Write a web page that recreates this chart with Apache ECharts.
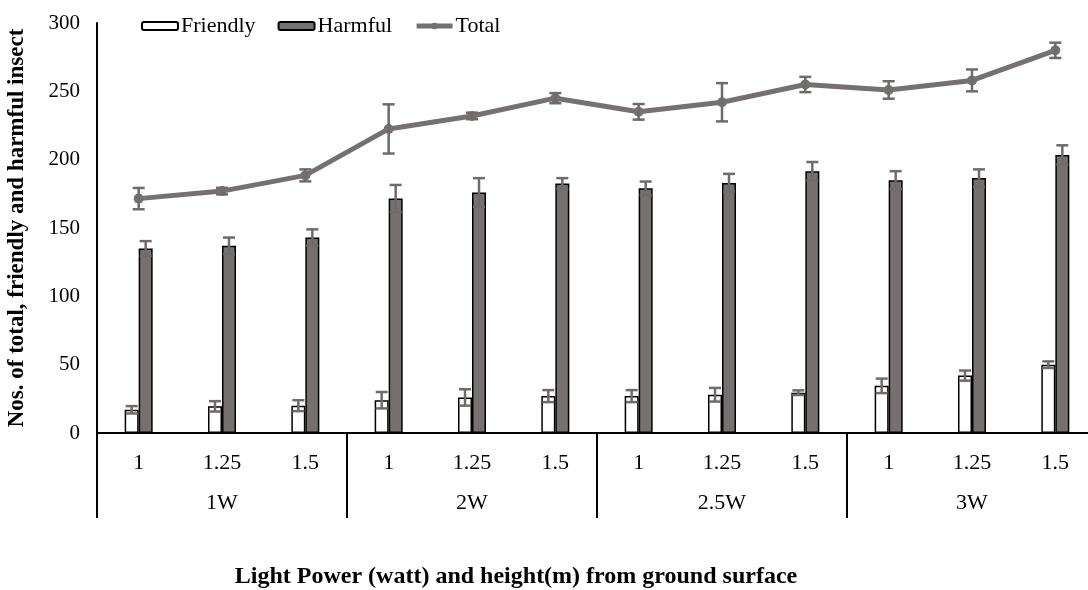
<!DOCTYPE html>
<html>
<head>
<meta charset="utf-8">
<script src="https://cdn.jsdelivr.net/npm/echarts@6/dist/echarts.min.js"></script>
<style>
  html, body { margin: 0; padding: 0; background: #fff; }
  #chart { width: 1088px; height: 590px; }
</style>
</head>
<body>
<div id="chart"></div>
<script>
var heights = ['1', '1.25', '1.5', '1', '1.25', '1.5', '1', '1.25', '1.5', '1', '1.25', '1.5'];
var powers = ['1W', '2W', '2.5W', '3W'];
var friendly = [17, 19.5, 20, 24, 26, 27, 27, 28, 29.5, 34.5, 42, 50];
var friendlyErr = [2.7, 3.8, 4, 6, 6, 4.4, 4.4, 5, 1.7, 5.3, 3.7, 2.4];
var harmful = [135, 137, 143, 171.5, 176, 182.5, 179, 183, 191.5, 185, 186.5, 203.5];
var harmfulErr = [5.4, 6, 6, 10, 10.5, 4, 5, 6.6, 6.8, 6.6, 6.4, 7];
var total = [171.5, 177, 188.5, 222.5, 232, 245, 235, 242, 255, 251, 258, 280];
var totalErr = [7.8, 2.4, 4.4, 18, 2.4, 3.7, 5.7, 14, 5.6, 6.4, 8, 5.6];

var font = 'Liberation Serif';
var grey = '#767171';
var errColor = '#6f6b6b';

function errData(vals, errs) {
    return vals.map(function (v, i) { return [i, v - errs[i], v + errs[i]]; });
}

// error bar drawn at category centre, shifted by dx pixels
function errSeries(name, vals, errs, dx) {
    return {
        type: 'custom',
        name: name + ' err',
        z: 5,
        silent: true,
        data: errData(vals, errs),
        renderItem: function (params, api) {
            var lo = api.coord([api.value(0), api.value(1)]);
            var hi = api.coord([api.value(0), api.value(2)]);
            var x = lo[0] + dx;
            var cap = 6;
            var st = { stroke: errColor, lineWidth: 2.5 };
            return {
                type: 'group',
                children: [
                    { type: 'line', shape: { x1: x, y1: lo[1], x2: x, y2: hi[1] }, style: st },
                    { type: 'line', shape: { x1: x - cap, y1: lo[1], x2: x + cap, y2: lo[1] }, style: st },
                    { type: 'line', shape: { x1: x - cap, y1: hi[1], x2: x + cap, y2: hi[1] }, style: st }
                ]
            };
        }
    };
}

var myChart = echarts.init(document.getElementById('chart'));
var option = {
    backgroundColor: '#fff',
    animation: false,
    textStyle: { fontFamily: font, color: '#000' },
    grid: { left: 97, right: -9, top: 23, bottom: 157, containLabel: false, outerBoundsMode: 'none' },
    legend: {
        left: 141,
        top: 15,
        padding: 0,
        itemWidth: 36,
        itemHeight: 8,
        itemGap: 22,
        textStyle: { fontFamily: font, fontSize: 22, color: '#000', padding: [0, 0, 0, -2] },
        data: [
            { name: 'Friendly' },
            { name: 'Harmful' },
            { name: 'Total', lineStyle: { width: 5 } }
        ]
    },
    xAxis: [
        {
            type: 'category',
            data: heights,
            axisLine: { lineStyle: { color: '#000', width: 2 } },
            axisTick: { show: false },
            axisLabel: { interval: 0, margin: 19, fontSize: 22, color: '#000', fontFamily: font }
        },
        {
            type: 'category',
            data: powers,
            position: 'bottom',
            axisLine: { show: false },
            axisTick: { show: true, length: 85, interval: 0, lineStyle: { color: '#000', width: 2 } },
            axisLabel: { interval: 0, margin: 59, fontSize: 22, color: '#000', fontFamily: font }
        }
    ],
    yAxis: {
        type: 'value',
        min: 0,
        max: 300,
        interval: 50,
        name: 'Nos. of total, friendly and harmful insect',
        nameLocation: 'middle',
        nameGap: 68,
        nameTextStyle: { fontFamily: font, fontSize: 23, fontWeight: 'bold', color: '#000' },
        axisLine: { show: true, lineStyle: { color: '#000', width: 2 } },
        axisTick: { show: false },
        splitLine: { show: false },
        axisLabel: { margin: 17, fontSize: 21, color: '#000', fontFamily: font }
    },
    graphic: [{
        type: 'text',
        x: 516,
        y: 577,
        style: {
            text: 'Light Power (watt) and height(m) from ground surface',
            font: 'bold 24px "Liberation Serif"',
            fill: '#000',
            textAlign: 'center',
            textVerticalAlign: 'middle'
        }
    }],
    series: [
        {
            name: 'Friendly',
            type: 'bar',
            data: friendly,
            barWidth: 14,
            barGap: '0%',
            itemStyle: { color: '#fff', borderColor: '#000', borderWidth: 1.5 }
        },
        {
            name: 'Harmful',
            type: 'bar',
            data: harmful,
            barWidth: 14,
            barGap: '0%',
            itemStyle: { color: grey, borderColor: '#000', borderWidth: 1.5 }
        },
        {
            name: 'Total',
            type: 'line',
            data: total,
            z: 4,
            symbol: 'circle',
            symbolSize: 10,
            lineStyle: { color: grey, width: 5 },
            itemStyle: { color: grey }
        },
        errSeries('Friendly', friendly, friendlyErr, -7),
        errSeries('Harmful', harmful, harmfulErr, 7),
        errSeries('Total', total, totalErr, 0)
    ]
};
myChart.setOption(option, true);
</script>
</body>
</html>
